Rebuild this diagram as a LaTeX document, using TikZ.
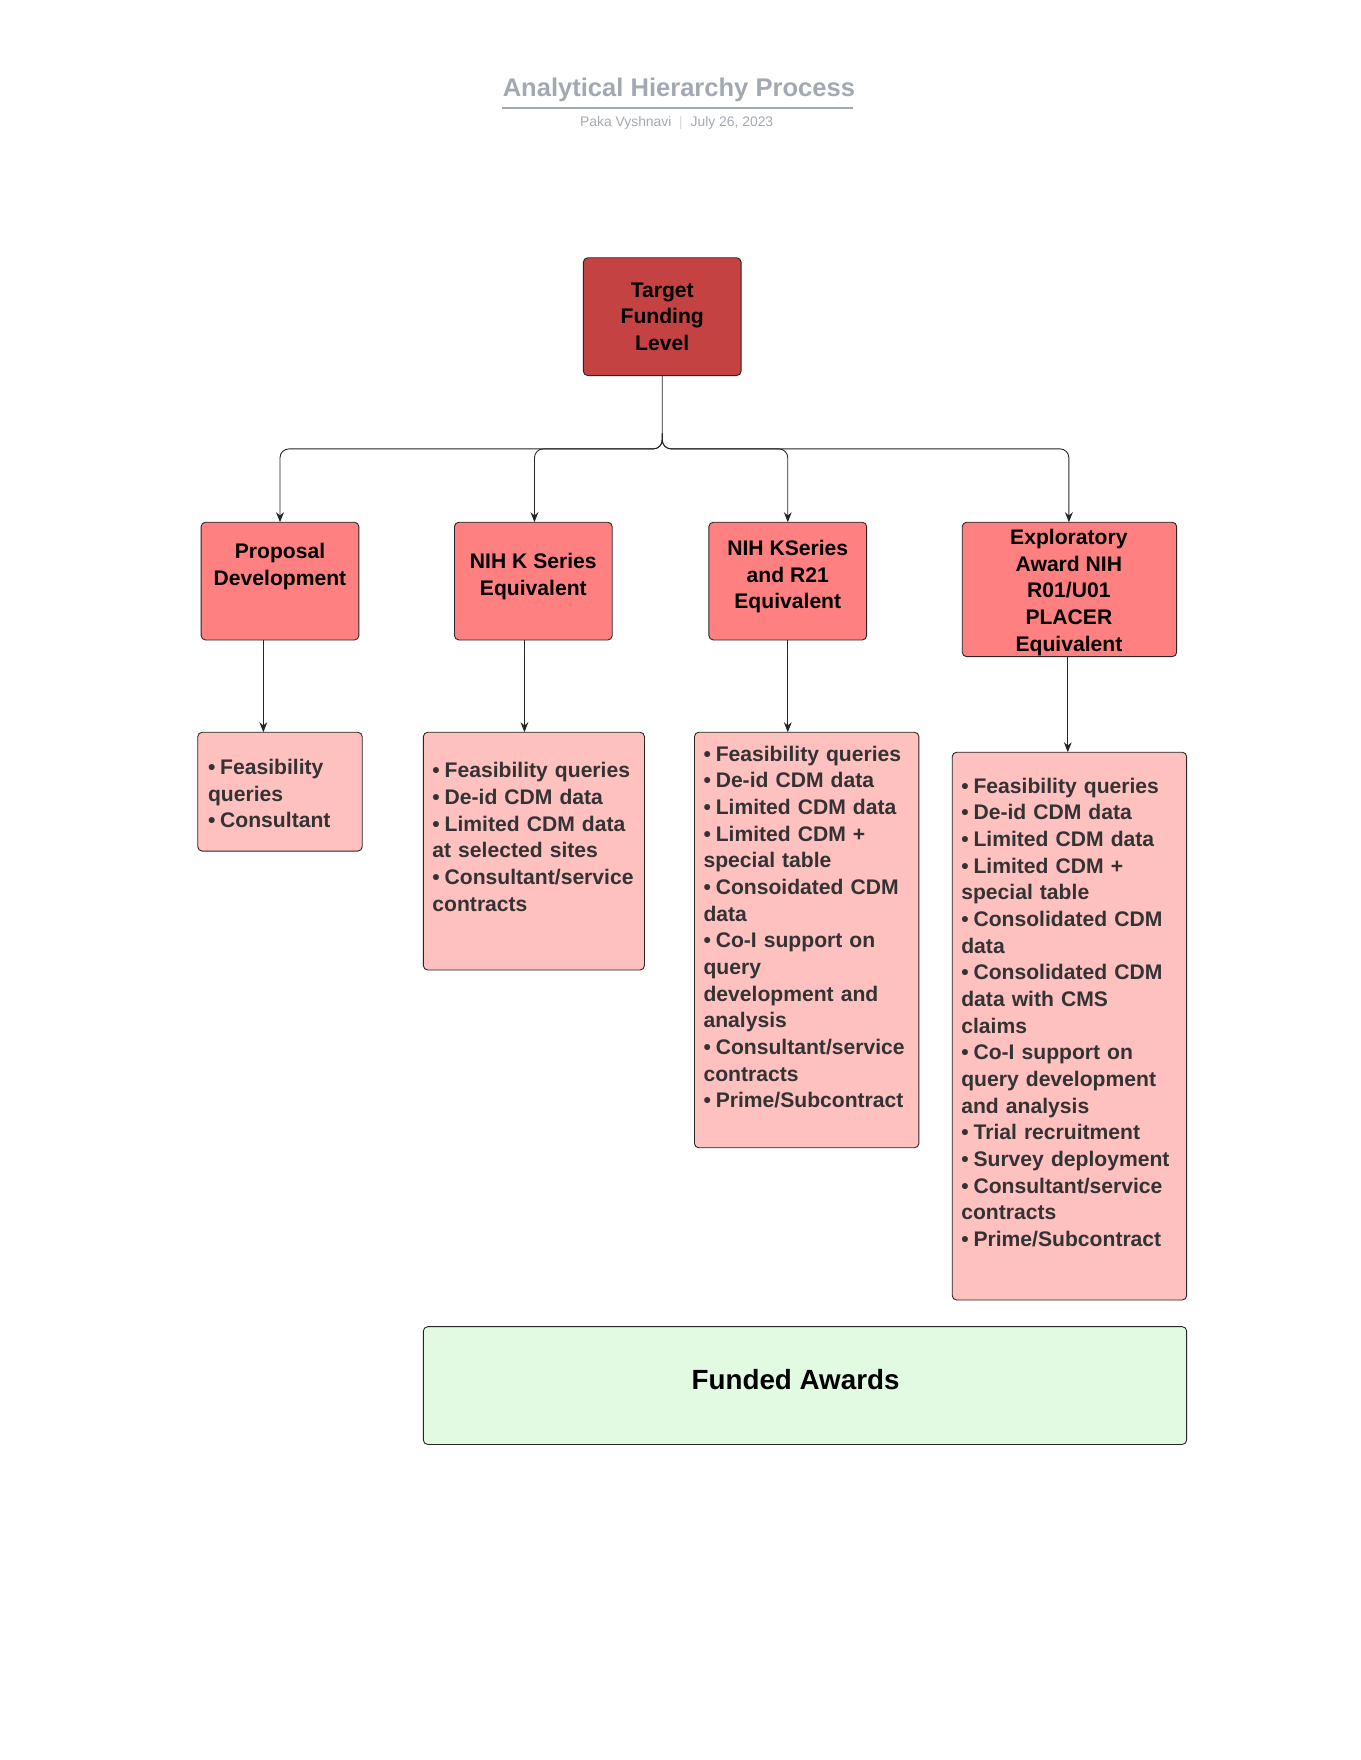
\documentclass[tikz,border=0pt]{standalone}
\usepackage{fontspec}
\setmainfont{Liberation Sans}
\usetikzlibrary{arrows.meta}
\definecolor{ttl}{HTML}{A3A9B3}
\definecolor{top}{HTML}{C44242}
\definecolor{mid}{HTML}{FF8080}
\definecolor{low}{HTML}{FFC0C0}
\definecolor{grn}{HTML}{E1FAE1}
\definecolor{txt}{HTML}{333333}
\newcommand{\bitem}[1]{\hangindent=11pt\hangafter=1\noindent\makebox[11pt][l]{•}#1\par}
\tikzset{
 box/.style={draw=black!85,rounded corners=4pt,line width=0.8pt},
 hdr/.style={align=center,font=\fontsize{19}{24}\selectfont\bfseries,inner sep=0},
 lst/.style={anchor=north west,inner sep=0,text width=260pt,align=left,text=txt,font=\fontsize{19}{24}\selectfont\bfseries},
 arr/.style={-{Stealth[length=9pt,width=7pt]},draw=black!85,line width=0.8pt}
}
\begin{document}
\begin{tikzpicture}[x=1pt,y=-1pt]
\useasboundingbox (0,0) rectangle (1224,1584);
\node[text=ttl,font=\fontsize{23}{28}\selectfont\bfseries] (title) at (611,81) {Analytical Hierarchy Process};
\draw[ttl,line width=1.5pt] (452,97) -- (768,97);
\node[text=ttl,font=\fontsize{12.5}{15}\selectfont] (sub) at (609,111) {Paka Vyshnavi \ $|$\ \ July 26, 2023};

\draw[box,fill=top] (525,232) rectangle (667,338);
\node[hdr] (t) at (596,285) {Target\\Funding\\Level};
\coordinate (tb) at (596,338);

\draw[box,fill=mid] (181,470) rectangle (323,576);
\draw[box,fill=mid] (409,470) rectangle (551,576);
\draw[box,fill=mid] (638,470) rectangle (780,576);
\draw[box,fill=mid] (866,470) rectangle (1059,591);
\node[hdr] (a) at (252,510) {Proposal\\Development};
\node[hdr] (b) at (480,519) {NIH K Series\\Equivalent};
\node[hdr] (c) at (709,519) {NIH KSeries\\and R21\\Equivalent};
\node[hdr] (d) at (962,533) {Exploratory\\Award NIH\\R01/U01\\PLACER\\Equivalent};

\foreach \x/\n in {252/a,481/b,709/c,962/d}{
 \coordinate (p\n) at (\x,470);
}
\draw[arr,rounded corners=8pt] (tb) -- (596,404) -- (252,404) -- (pa);
\draw[arr,rounded corners=8pt] (596,390) -- (596,404) -- (481,404) -- (pb);
\draw[arr,rounded corners=8pt] (596,390) -- (596,404) -- (709,404) -- (pc);
\draw[arr,rounded corners=8pt] (596,390) -- (596,404) -- (962,404) -- (pd);

\draw[box,fill=low] (178,659) rectangle (326,766);
\draw[box,fill=low] (381,659) rectangle (580,873);
\draw[box,fill=low] (625,659) rectangle (827,1033);
\draw[box,fill=low] (857,677) rectangle (1068,1170);

\coordinate (a1) at (237,576); \coordinate (a2) at (237,659);
\coordinate (b1) at (472,576); \coordinate (b2) at (472,659);
\coordinate (c1) at (709,576); \coordinate (c2) at (709,659);
\coordinate (d1) at (961,591); \coordinate (d2) at (961,677);
\draw[arr] (a1) -- (a2);
\draw[arr] (b1) -- (b2);
\draw[arr] (c1) -- (c2);
\draw[arr] (d1) -- (d2);

\node[lst] (la) at (187,683) {\bitem{Feasibility\\queries}\bitem{Consultant}};
\node[lst] (lb) at (389,686) {\bitem{Feasibility queries}\bitem{De-id CDM data}\bitem{Limited CDM data\\at selected sites}\bitem{Consultant/service\\contracts}};
\node[lst] (lc) at (633,671) {\bitem{Feasibility queries}\bitem{De-id CDM data}\bitem{Limited CDM data}\bitem{Limited CDM +\\special table}\bitem{Consoidated CDM\\data}\bitem{Co-I support on\\query\\development and\\analysis}\bitem{Consultant/service\\contracts}\bitem{Prime/Subcontract}};
\node[lst] (ld) at (865,700) {\bitem{Feasibility queries}\bitem{De-id CDM data}\bitem{Limited CDM data}\bitem{Limited CDM +\\special table}\bitem{Consolidated CDM\\data}\bitem{Consolidated CDM\\data with CMS\\claims}\bitem{Co-I support on\\query development\\and analysis}\bitem{Trial recruitment}\bitem{Survey deployment}\bitem{Consultant/service\\contracts}\bitem{Prime/Subcontract}};

\draw[box,fill=grn] (381,1194) rectangle (1068,1300);
\node[font=\fontsize{25}{30}\selectfont\bfseries] (f) at (716,1242) {Funded Awards};
\end{tikzpicture}
\end{document}
